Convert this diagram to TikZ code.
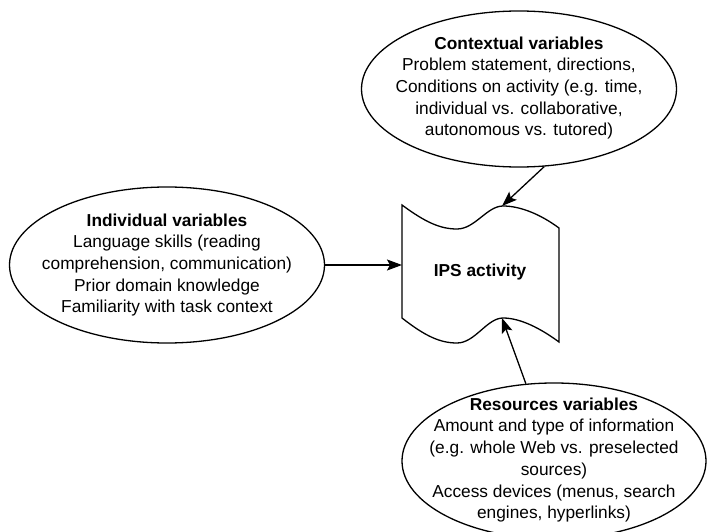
\documentclass[tikz,border=0pt]{standalone}
\usepackage{fontspec}
\setmainfont{Liberation Sans}
\usetikzlibrary{shapes.geometric,arrows.meta}
\tikzset{
    varell/.style={draw, ellipse, line width=1.3pt, inner sep=0pt, minimum width=315pt, minimum height=156pt},
    vartext/.style={align=center, inner sep=0pt, font=\fontsize{17.3}{21.7}\selectfont},
    arr/.style={-{Stealth[length=15pt,width=11pt,inset=3pt]}, line width=1.3pt},
}
\begin{document}
\begin{tikzpicture}[x=1pt,y=-1pt]
                \useasboundingbox (0,0) rectangle (707,532);
                \node [varell] (ctx) at (519,89) {};
                \node [vartext] (ctxtext) at (519,88) {\textbf{Contextual variables}\\Problem statement, directions,\\Conditions on activity (e.g. time,\\individual vs. collaborative,\\autonomous vs. tutored)};
                \node [varell] (ind) at (167,265) {};
                \node [vartext] (indtext) at (167,265) {\textbf{Individual variables}\\Language skills (reading\\comprehension, communication)\\Prior domain knowledge\\Familiarity with task context};
                \node [varell, minimum width=304pt] (res) at (554,461) {};
                \node [vartext] (restext) at (554,460) {\textbf{Resources variables}\\Amount and type of information\\(e.g. whole Web vs. preselected\\sources)\\Access devices (menus, search\\engines, hyperlinks)};
                \draw [line width=1.3pt] (402,205) .. controls (425,222) and (440,229) .. (457,229)
                    .. controls (475,229) and (487,206) .. (503,206)
                    .. controls (520,206) and (540,214) .. (559,228) -- (559,342)
                    .. controls (540,328) and (520,318) .. (503,318)
                    .. controls (487,318) and (475,343) .. (457,343)
                    .. controls (440,343) and (425,336) .. (402,318) -- cycle;
                \node [vartext, font=\fontsize{17.3}{21.7}\selectfont\bfseries] (ips) at (480,272) {IPS activity};
                \coordinate (ipsleft) at (402,265);
                \coordinate (ipstop) at (502,206);
                \coordinate (ipsbot) at (502,318);
                \draw [arr] (ind.east) -- (ipsleft);
                \draw [arr] (ctx.-72) -- (ipstop);
                \draw [arr] (res.110) -- (ipsbot);
\end{tikzpicture}
\end{document}
